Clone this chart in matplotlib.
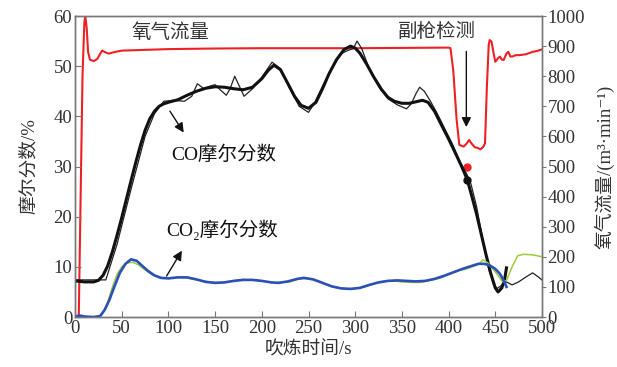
import matplotlib
matplotlib.use("Agg")
import matplotlib.pyplot as plt

plt.rcParams['font.family'] = ['Liberation Serif', 'Noto Sans CJK SC', 'DejaVu Sans']
plt.rcParams['axes.unicode_minus'] = False

# CO molar fraction, smoothed (thick black)
co_t = [0, 10, 20, 25, 30, 35, 40, 45, 50, 55, 60, 65, 70, 75, 80, 85, 90, 95, 100, 110,
        120, 130, 140, 150, 160, 170, 180, 190, 200, 207, 213, 220, 228, 235, 242, 250, 258,
        265, 272, 280, 288, 295, 300, 305, 312, 320, 328, 335, 342, 350, 358, 365, 372, 378,
        385, 392, 400, 408, 414, 420, 425, 430, 435, 440, 445, 450, 453, 457, 460, 462]
co_v = [7.2, 7.0, 7.0, 7.3, 8.3, 10.2, 13.0, 16.3, 19.8, 23.5, 27.2, 30.8, 34.2, 37.2, 39.5,
        41.0, 42.0, 42.5, 42.8, 43.3, 44.2, 45.0, 45.6, 45.9, 45.8, 45.5, 45.3, 45.8, 47.5,
        49.2, 50.2, 49.3, 46.5, 44.0, 42.2, 41.6, 42.8, 45.5, 48.5, 51.3, 53.3, 54.0, 53.6,
        52.6, 50.5, 47.8, 45.4, 43.8, 43.0, 42.6, 42.6, 42.9, 43.2, 42.8, 41.0, 38.4, 35.5,
        32.4, 30.0, 27.4, 24.0, 20.5, 16.5, 12.5, 8.8, 5.8, 5.0, 5.8, 7.5, 9.8]

# CO molar fraction, measured (thin black)
co_raw_t = [0, 33, 45, 60, 75, 85, 95, 105, 117, 125, 131, 138, 144, 150, 156, 162, 166, 171,
            176, 181, 190, 200, 211, 220, 230, 240, 250, 256, 265, 275, 285, 293, 298, 302,
            307, 315, 325, 335, 345, 355, 360, 365, 369, 374, 380, 388, 396, 404, 412, 420,
            424, 430, 437, 443, 448, 452, 456, 462, 468, 475, 483, 490, 496, 500]
co_raw_v = [7.4, 7.4, 14.5, 25.5, 36.0, 40.5, 43.0, 43.2, 43.0, 44.0, 46.5, 45.5, 46.0, 46.3,
            45.2, 44.2, 45.5, 48.0, 46.0, 44.0, 45.5, 47.8, 50.8, 49.5, 45.5, 42.0, 40.8, 42.5,
            46.0, 49.5, 52.5, 53.2, 53.5, 55.0, 53.5, 49.5, 46.0, 43.5, 42.3, 41.5, 42.5, 44.5,
            45.8, 45.0, 43.2, 40.5, 37.5, 34.5, 31.0, 28.3, 26.5, 22.0, 15.0, 9.5, 6.5, 5.7,
            6.2, 7.0, 6.4, 7.0, 8.0, 8.8, 8.0, 7.4]

# CO2 molar fraction, smoothed (blue)
co2_t = [0, 5, 10, 20, 27, 32, 37, 42, 48, 54, 60, 66, 72, 78, 85, 92, 100, 110, 120, 130,
         140, 150, 160, 170, 180, 190, 200, 210, 218, 228, 238, 245, 255, 265, 275, 285, 295,
         305, 315, 325, 335, 345, 355, 365, 375, 385, 395, 405, 415, 425, 432, 438, 444, 450,
         455, 459, 462]
co2_v = [0.1, 0.3, 0.1, 0.0, 0.2, 1.5, 3.5, 6.0, 8.8, 10.6, 11.5, 11.2, 10.2, 9.2, 8.3, 7.8,
         7.7, 7.9, 7.9, 7.5, 7.0, 6.8, 6.9, 7.2, 7.4, 7.4, 7.2, 6.9, 6.8, 7.1, 7.6, 7.8, 7.5,
         6.8, 6.1, 5.7, 5.6, 5.8, 6.4, 6.9, 7.2, 7.3, 7.2, 7.1, 7.2, 7.6, 8.2, 8.9, 9.6, 10.2,
         10.6, 10.6, 10.3, 9.6, 8.6, 7.3, 6.0]

# CO2 molar fraction, measured (green)
co2_raw_t = [0, 25, 30, 35, 40, 45, 50, 56, 62, 68, 75, 82, 90, 100, 110, 120, 130, 140, 150,
             160, 170, 180, 190, 200, 210, 220, 230, 240, 250, 260, 270, 280, 290, 300, 310,
             320, 330, 340, 350, 360, 370, 380, 390, 400, 410, 418, 425, 432, 437, 442, 450,
             458, 462, 468, 474, 480, 490, 500]
co2_raw_v = [0.1, 0.0, 0.8, 3.0, 6.0, 8.5, 10.0, 10.8, 10.9, 10.4, 9.4, 8.5, 7.9, 7.7, 7.9,
             7.8, 7.4, 7.1, 6.9, 6.9, 7.2, 7.5, 7.3, 7.2, 6.9, 6.9, 7.0, 7.6, 7.7, 7.2, 6.4,
             5.9, 5.6, 5.7, 6.0, 6.6, 7.1, 7.2, 7.0, 6.9, 6.9, 7.3, 7.7, 8.5, 9.3, 9.5, 10.0,
             10.5, 11.4, 10.8, 9.0, 7.0, 7.3, 10.0, 12.2, 12.5, 12.4, 12.0]

# oxygen flow, m3/min (red, right axis)
o2_t = [0, 4, 6, 8, 10, 11, 12.5, 14, 16, 20, 24, 27, 29, 32, 36, 42, 50, 70, 100, 150, 200,
        250, 300, 350, 400, 402, 405, 408.6, 411.5, 416, 419, 422, 425, 428, 431, 434, 437,
        439, 441, 443, 444, 446, 448, 450, 453, 455, 457, 459, 462, 464, 466, 468, 472, 476,
        483, 490, 495, 500]
o2_v = [0, 0, 400, 800, 980, 1000, 960, 880, 855, 850, 858, 875, 885, 880, 875, 880, 885, 887,
        890, 892, 893, 893, 893, 894, 895, 893, 820, 655, 572, 566, 575, 588, 575, 564, 562,
        557, 565, 577, 765, 905, 920, 915, 880, 848, 860, 865, 855, 854, 875, 881, 866, 865,
        870, 870, 873, 881, 884, 889]

probe_t = 420
probe_co = 27.3
probe_o2 = 500

fig = plt.figure(figsize=(6.17, 3.67), dpi=100)
ax = fig.add_axes([0.1216, 0.1362, 0.7568, 0.8202])
ax2 = ax.twinx()
ax.set_zorder(ax2.get_zorder() + 1)
ax.patch.set_visible(False)

red = '#ee2024'
ax2.plot(o2_t, o2_v, color=red, lw=1.5)
ax2.plot([probe_t], [probe_o2], 'o', color=red, ms=5)

ax.plot(co_raw_t, co_raw_v, color='#222222', lw=0.9)
ax.plot(co_t, co_v, color='#111111', lw=2.2)
ax.plot(co2_raw_t, co2_raw_v, color='#9ccb3b', lw=1.1)
ax.plot(co2_t, co2_v, color='#2b50b8', lw=1.9)
ax.plot([probe_t], [probe_co], 'o', color='#111111', ms=5)

ax.set_xlim(0, 500)
ax.set_ylim(0, 60)
ax2.set_ylim(0, 1000)
ax.set_xticks(range(0, 501, 50))
ax.set_yticks(range(0, 61, 10))
ax2.set_yticks(range(0, 1001, 100))

tc = '#333333'
for a in (ax, ax2):
    for s in a.spines.values():
        s.set_color('#777777')
        s.set_linewidth(1.0)
ax.tick_params(axis='both', direction='in', length=4, color='#777777', labelsize=13.5,
               labelcolor=tc, pad=2)
ax2.tick_params(axis='y', direction='out', length=3, color='#777777', labelsize=13.5,
                labelcolor=tc, pad=1)

ax.set_xlabel('吹炼时间/s', fontsize=13.5, color=tc, labelpad=3)
ax.set_ylabel('摩尔分数/%', fontsize=13.5, color=tc, labelpad=11)
ax2.set_ylabel('氧气流量/(m³·min⁻¹)', fontsize=13.5, color=tc, labelpad=7)

ax.text(102, 56.6, '氧气流量', fontsize=14, color=tc, ha='center', va='center')
ax.text(387, 56.9, '副枪检测', fontsize=14, color=tc, ha='center', va='center')
ax.text(159, 32.3, 'CO摩尔分数', fontsize=14, color='#111111', ha='center', va='center')
ax.text(158, 17.3, 'CO₂摩尔分数', fontsize=14, color='#111111', ha='center', va='center')

arrow = dict(arrowstyle='-|>', color='#111111', lw=1.0, mutation_scale=14)
ax.annotate('', xy=(419, 37.3), xytext=(419, 53.5), arrowprops=arrow)
ax.annotate('', xy=(118, 36.3), xytext=(100, 41.5), arrowprops=arrow)
ax.annotate('', xy=(116, 13.7), xytext=(96.5, 7.7), arrowprops=arrow)

fig.savefig('out.png', dpi=100, facecolor='white')
